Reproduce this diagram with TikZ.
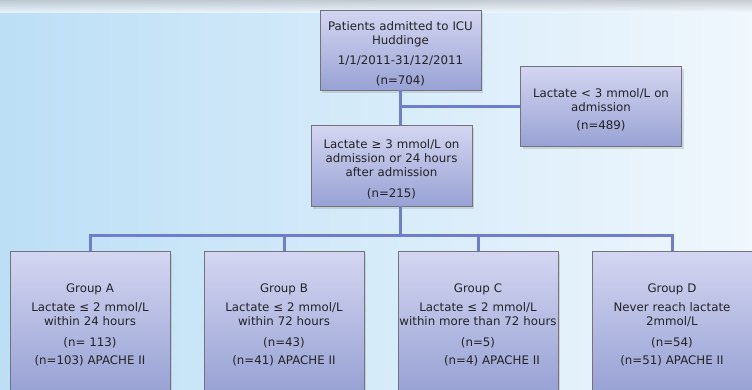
\documentclass[tikz,border=0pt]{standalone}
\usepackage{fontspec}
\setmainfont{DejaVu Sans}
\usetikzlibrary{positioning,shadows}

\definecolor{linkblue}{RGB}{112,124,206}
\definecolor{boxtop}{RGB}{212,214,241}
\definecolor{boxbot}{RGB}{152,162,212}
\definecolor{boxedge}{RGB}{115,115,125}
\definecolor{txt}{RGB}{35,35,40}
\definecolor{bgl}{RGB}{188,223,246}
\definecolor{bgr}{RGB}{240,247,253}
\definecolor{bgtop}{RGB}{190,194,200}

\begin{document}
\begin{tikzpicture}[x=1pt, y=-1pt,
	b/.style={rectangle, draw=boxedge, top color=boxtop, bottom color=boxbot,
		minimum width=161pt, text width=159pt, inner sep=1pt, align=center,
		text=txt, font=\fontsize{11.8}{14}\selectfont,
		execute at begin node={\rule{0pt}{17pt}},
		drop shadow={shadow xshift=2pt, shadow yshift=-3pt, opacity=0.25}},
	g/.style={b, minimum width=160pt, text width=158pt, minimum height=140pt},
	l/.style={draw=linkblue, line width=3pt}]

	\clip (0,0) rectangle (752,389);
	\shade[left color=bgl, right color=bgr] (0,0) rectangle (752,389);
	\shade[top color=bgtop, bottom color=bgr, opacity=0.8] (0,0) rectangle (752,12);

	\node[b, minimum height=80pt] (top) at (400.5,50) {Patients admitted to ICU\\ Huddinge\\[6pt] 1/1/2011-31/12/2011\\[6pt] (n=704)};
	\node[b, minimum height=80pt] (low) at (601,106) {Lactate < 3 mmol/L on\\ admission\\[4pt] (n=489)};
	\node[b, minimum height=81pt] (high) at (391.5,165.5) {Lactate ≥ 3 mmol/L on\\ admission or 24 hours\\ after admission\\[7pt] (n=215)};

	\node[g] (ga) at (90,321) {Group A\\[5pt] Lactate ≤ 2 mmol/L\\ within 24 hours\\[7pt] (n= 113)\\[4pt] (n=103) APACHE II};
	\node[g] (gb) at (284,321) {Group B\\[5pt] Lactate ≤ 2 mmol/L\\ within 72 hours\\[7pt] (n=43)\\[4pt] (n=41) APACHE II};
	\node[g] (gc) at (478,321) {Group C\\[5pt] Lactate ≤ 2 mmol/L\\ within more than 72 hours\\[7pt] (n=5)\\[4pt] \hspace*{28pt}(n=4) APACHE II};
	\node[g] (gd) at (672,321) {Group D\\[5pt] Never reach lactate\\ 2mmol/L\\[7pt] (n=54)\\[4pt] (n=51) APACHE II};

	\coordinate (bus) at (400.5,235);

	\path[l] (top) edge (top |- high.north);
	\path[l] (top |- low) edge (low);
	\path[l] (top |- high.south) edge (bus);
	\draw[l] (ga) |- (bus) -| (gd);
	\draw[l] (gb) |- (bus);
	\draw[l] (gc) |- (bus);
\end{tikzpicture}
\end{document}
